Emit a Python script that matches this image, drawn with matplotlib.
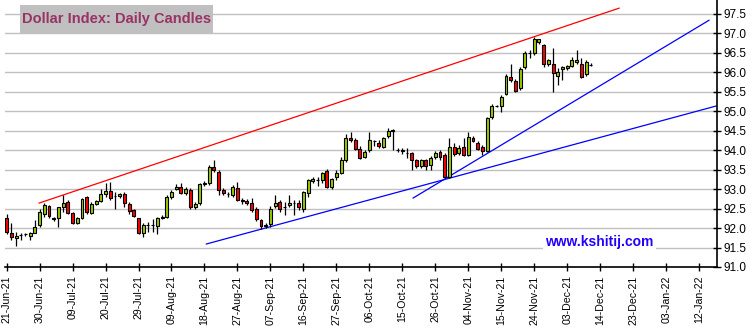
import numpy as np
import matplotlib
matplotlib.use('Agg')
import matplotlib.pyplot as plt
from matplotlib.patches import Rectangle

plt.rcParams['font.family'] = ['Liberation Sans', 'DejaVu Sans']

# --- Data (x = trading-day index from 21-Jun-21) ---
opens = [92.25, 91.88, 91.74, 91.81, 91.84, 91.79, 91.88, 92.09, 92.36, 92.56,
         92.26, 92.25, 92.53, 92.67, 92.38, 92.14, 92.25, 92.79, 92.39, 92.61,
         92.70, 92.87, 92.95, 92.83, 92.82, 92.87, 92.61, 92.46, 92.25, 91.86,
         92.08, 92.07, 92.06, 92.25, 92.27, 92.79, 92.99, 93.05, 92.90, 92.97,
         92.53, 92.63, 93.13, 93.15, 93.57, 93.44, 92.97, 92.87, 92.85, 93.02,
         92.71, 92.70, 92.63, 92.50, 92.21, 92.08, 92.10, 92.56, 92.67, 92.53,
         92.58, 92.63, 92.65, 92.48, 92.89, 93.21, 93.23, 93.23, 93.47, 93.05,
         93.32, 93.42, 93.74, 94.30, 94.27, 94.02, 93.83, 93.99, 94.22, 94.19,
         94.09, 94.36, 94.52, 94.00, 94.01, 93.93, 93.92, 93.74, 93.59, 93.74,
         93.62, 93.83, 93.96, 93.87, 93.32, 94.08, 93.92, 94.08, 93.87, 94.30,
         94.19, 94.08, 93.98, 94.84, 95.13, 95.13, 95.45, 95.88, 95.78, 95.58,
         96.12, 96.49, 96.50, 96.78, 96.69, 96.21, 96.21, 95.90, 96.07, 96.11,
         96.15, 96.26, 96.22, 95.95, 96.19]
highs = [92.37, 92.12, 91.91, 91.88, 91.88, 91.91, 92.21, 92.50, 92.63, 92.59,
         92.29, 92.55, 92.85, 92.72, 92.42, 92.29, 92.77, 92.82, 92.67, 92.72,
         92.99, 93.15, 93.19, 92.93, 92.90, 92.93, 92.67, 92.50, 92.26, 92.12,
         92.16, 92.22, 92.29, 92.33, 92.85, 92.97, 93.12, 93.16, 93.04, 93.02,
         92.67, 93.16, 93.20, 93.62, 93.74, 93.49, 93.02, 92.93, 93.10, 93.19,
         92.78, 92.74, 92.76, 92.55, 92.24, 92.12, 92.56, 92.85, 92.72, 92.67,
         92.85, 92.72, 92.72, 92.95, 93.27, 93.30, 93.30, 93.45, 93.51, 93.28,
         93.50, 93.82, 94.41, 94.47, 94.32, 94.10, 94.00, 94.47, 94.26, 94.25,
         94.33, 94.56, 94.54, 94.05, 94.05, 94.05, 93.95, 93.78, 93.78, 93.78,
         93.85, 93.98, 94.00, 93.92, 94.30, 94.18, 94.12, 94.30, 94.47, 94.35,
         94.24, 94.14, 94.85, 95.18, 95.16, 95.42, 95.95, 96.21, 95.82, 96.14,
         96.54, 96.58, 96.89, 96.86, 96.72, 96.34, 96.61, 96.10, 96.15, 96.18,
         96.39, 96.56, 96.35, 96.30, 96.24]
lows = [91.85, 91.69, 91.54, 91.69, 91.80, 91.69, 91.86, 92.02, 92.29, 92.26,
        92.19, 92.02, 92.42, 92.36, 92.11, 92.11, 92.22, 92.37, 92.36, 92.59,
        92.67, 92.80, 92.72, 92.50, 92.78, 92.55, 92.36, 92.29, 91.85, 91.78,
        91.91, 91.91, 91.84, 92.22, 92.25, 92.75, 92.97, 92.87, 92.84, 92.48,
        92.48, 92.60, 93.08, 93.10, 93.45, 92.85, 92.85, 92.80, 92.80, 92.70,
        92.62, 92.58, 92.42, 92.18, 91.98, 92.00, 92.02, 92.52, 92.42, 92.33,
        92.55, 92.33, 92.45, 92.42, 92.79, 93.15, 93.07, 93.16, 93.02, 93.00,
        93.22, 93.38, 93.70, 94.20, 94.00, 93.77, 93.80, 93.95, 94.10, 94.05,
        94.05, 94.32, 93.99, 93.95, 93.90, 93.80, 93.50, 93.55, 93.55, 93.50,
        93.50, 93.78, 93.75, 93.28, 93.28, 93.85, 93.88, 93.84, 93.84, 94.20,
        94.00, 93.87, 93.95, 94.80, 95.10, 94.98, 95.40, 95.75, 95.50, 95.55,
        96.08, 96.35, 96.45, 96.72, 96.13, 96.15, 95.50, 95.67, 95.81, 96.05,
        96.12, 96.20, 95.84, 95.90, 96.16]
closes = [91.91, 91.76, 91.79, 91.83, 91.84, 91.86, 92.03, 92.42, 92.59, 92.31,
          92.22, 92.53, 92.63, 92.39, 92.14, 92.25, 92.74, 92.42, 92.61, 92.70,
          92.87, 92.95, 92.76, 92.82, 92.87, 92.65, 92.44, 92.31, 91.86, 92.08,
          92.07, 92.08, 92.25, 92.29, 92.79, 92.93, 93.05, 92.91, 93.00, 92.53,
          92.62, 93.13, 93.15, 93.57, 93.50, 92.97, 92.89, 92.88, 93.05, 92.72,
          92.70, 92.63, 92.46, 92.22, 92.05, 92.05, 92.50, 92.63, 92.48, 92.54,
          92.65, 92.64, 92.53, 92.92, 93.23, 93.25, 93.22, 93.42, 93.04, 93.25,
          93.40, 93.74, 94.30, 94.26, 94.02, 93.79, 93.96, 94.26, 94.22, 94.10,
          94.30, 94.50, 94.50, 94.00, 93.98, 93.93, 93.74, 93.59, 93.74, 93.59,
          93.79, 93.93, 93.82, 93.32, 94.08, 93.90, 94.06, 93.87, 94.33, 94.23,
          94.04, 93.98, 94.81, 95.13, 95.14, 95.37, 95.90, 95.79, 95.52, 96.09,
          96.50, 96.49, 96.84, 96.84, 96.22, 96.31, 95.98, 96.01, 96.13, 96.15,
          96.31, 96.32, 95.88, 96.25, 96.19]

tick_labels = ['21-Jun-21', '30-Jun-21', '09-Jul-21', '20-Jul-21', '29-Jul-21',
               '09-Aug-21', '18-Aug-21', '27-Aug-21', '07-Sep-21', '16-Sep-21',
               '27-Sep-21', '06-Oct-21', '15-Oct-21', '26-Oct-21', '04-Nov-21',
               '15-Nov-21', '24-Nov-21', '03-Dec-21', '14-Dec-21', '23-Dec-21',
               '03-Jan-22', '12-Jan-22']

# trend lines: (x0, y0, x1, y1) in trading-day index / index value
red_line = [6.9, 92.64, 130.0, 97.64]
blue_low = [42.4, 91.59, 150.6, 95.13]
blue_steep = [86.3, 92.77, 149.1, 97.33]

# --- Plot ---
fig = plt.figure(figsize=(7.53, 3.34), dpi=100)
ax = fig.add_axes([0.0066, 0.2006, 0.9456, 0.7994])

o = np.array(opens); h = np.array(highs); l = np.array(lows); c = np.array(closes)
x = np.arange(len(o))
up = c >= o
body_col = np.where(up, '#99CC00', '#FF0000')

ax.vlines(x, l, h, color='black', linewidth=0.9, zorder=3)
ax.bar(x, np.abs(c - o), bottom=np.minimum(o, c), width=0.62, color=body_col,
       edgecolor='black', linewidth=0.8, zorder=4)

for ln, col in [(red_line, '#FF0000'), (blue_low, '#0000FF'), (blue_steep, '#0000FF')]:
    ax.plot([ln[0], ln[2]], [ln[1], ln[3]], color=col, linewidth=0.9, zorder=2)

ax.set_xlim(-0.35, 150.8)
ax.set_ylim(91.0, 97.85)
yt = np.arange(91.0, 97.51, 0.5)
ax.set_yticks(yt)
ax.set_yticklabels([f'{v:.1f}' for v in yt], fontsize=8.5)
ax.yaxis.tick_right()
ax.set_xticks(np.arange(len(tick_labels)) * 7)
ax.set_xticklabels(tick_labels, rotation=90, fontsize=7.6)
ax.tick_params(axis='both', direction='inout', length=6, width=1,
               colors='black', pad=2)
ax.tick_params(axis='x', pad=3)

ax.grid(axis='y', color='#C0C0C0', linewidth=1.0, zorder=0)
ax.set_axisbelow(True)
for s in ['top', 'left']:
    ax.spines[s].set_visible(False)
for s in ['right', 'bottom']:
    ax.spines[s].set_color('black')
    ax.spines[s].set_linewidth(1.2)

# title box
fig.patches.append(Rectangle((20 / 753, 1 - 34 / 334), 193 / 753, 29 / 334,
                             transform=fig.transFigure, facecolor='#C0C0C0',
                             edgecolor='none', zorder=5))
fig.text(116.5 / 753, 1 - 19.5 / 334, 'Dollar Index: Daily Candles', ha='center', va='center',
         fontsize=10.5, fontweight='bold', color='#993366', zorder=6)

# watermark
ax.text(0.835, 0.094, 'www.kshitij.com', transform=ax.transAxes, ha='center', va='center',
        fontsize=10, fontweight='bold', color='#2200FF', zorder=5,
        bbox=dict(boxstyle='square,pad=0.15', facecolor='white', edgecolor='none'))

fig.savefig('out.png', dpi=100, facecolor='white')
